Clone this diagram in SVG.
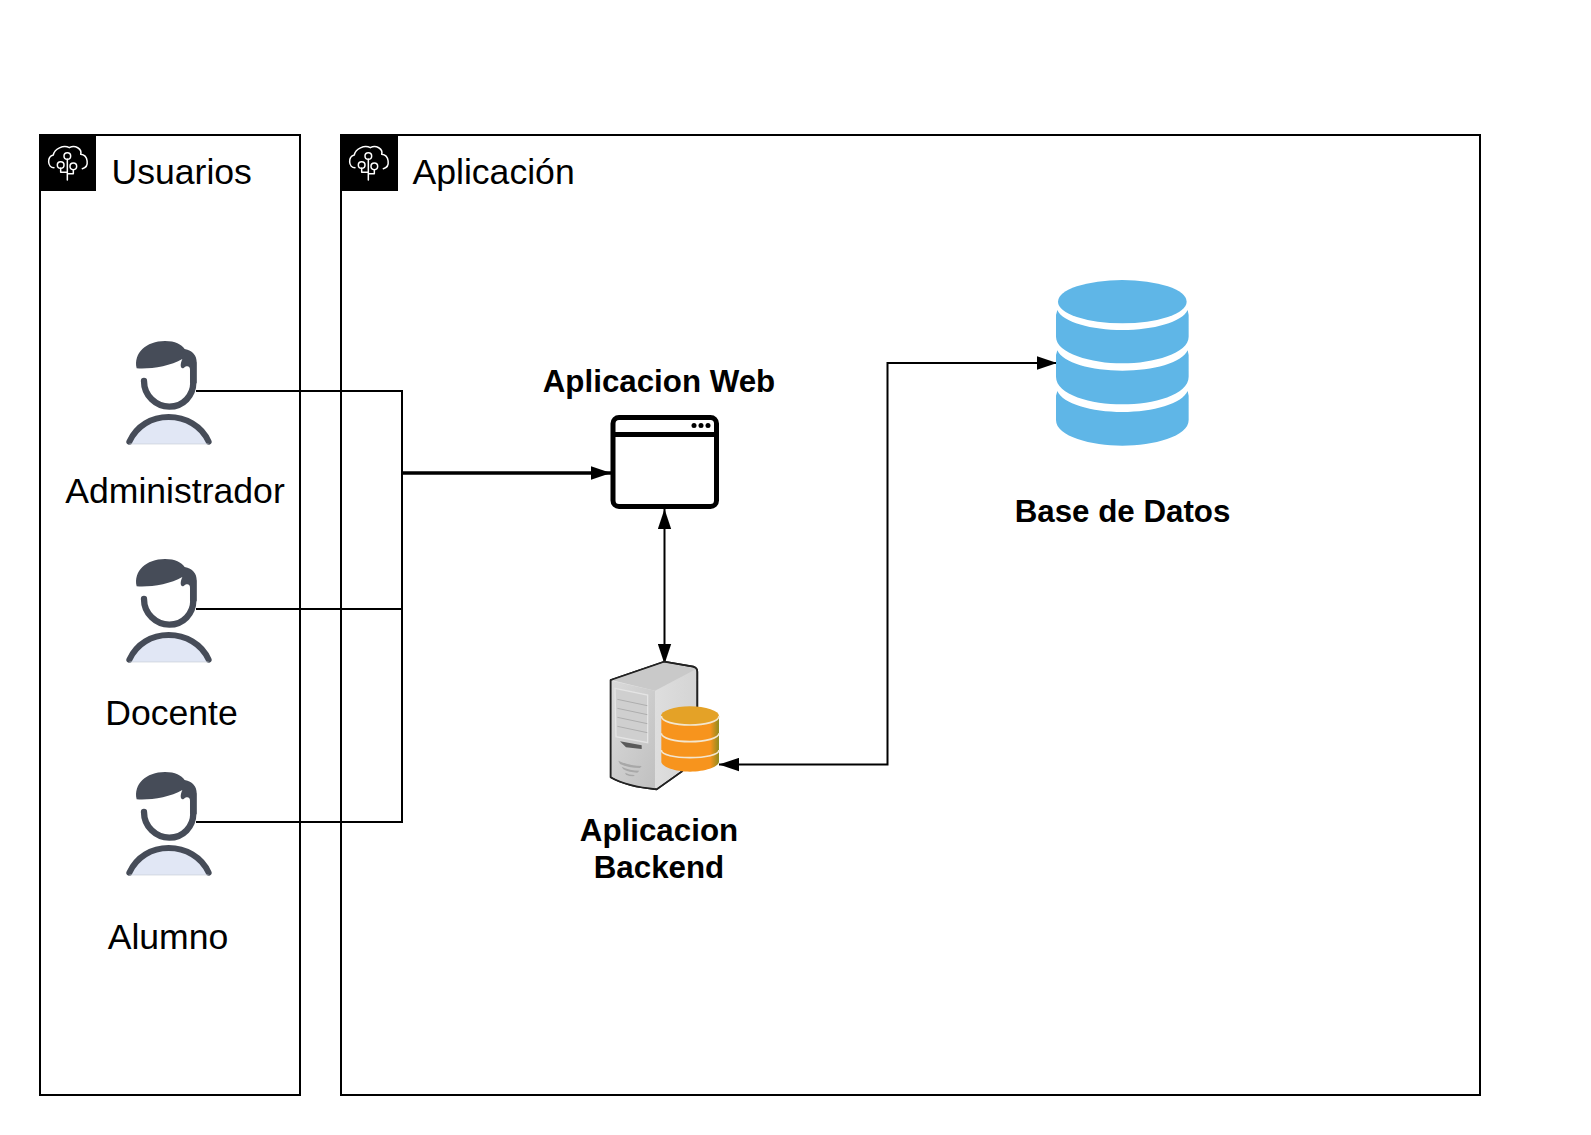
<svg xmlns="http://www.w3.org/2000/svg" width="1591" height="1135" viewBox="0 0 1591 1135">
<style>
text{font-family:"Liberation Sans",Arial,sans-serif;fill:#000}
.t{font-size:35.6px}
.b{font-size:31.3px;font-weight:bold;text-anchor:middle}
.m{text-anchor:middle}
.box{fill:#fff;stroke:#000;stroke-width:2}
.c{fill:none;stroke:#000;stroke-width:2}
.ic{fill:none;stroke:#fff;stroke-width:4.5;stroke-linecap:round;stroke-linejoin:round}
</style>
<defs>
<marker id="a" markerUnits="userSpaceOnUse" markerWidth="20" markerHeight="14" refX="18" refY="6" orient="auto-start-reverse" viewBox="0 0 18 12"><path d="M0,0L18,6L0,12Z" fill="#000"/></marker>
<linearGradient id="side" x1="0" x2="1"><stop offset="0" stop-color="#e8e8e8"/><stop offset="1" stop-color="#d4d4d4"/></linearGradient>
<linearGradient id="front" x1="0" x2="1" y1="0" y2="1"><stop offset="0" stop-color="#dadada"/><stop offset="1" stop-color="#c0c0c0"/></linearGradient>
<linearGradient id="cyl" x1="0" x2="1"><stop offset="0" stop-color="#f7941d"/><stop offset=".85" stop-color="#f7941d"/><stop offset="1" stop-color="#8f8a1e"/></linearGradient>
<g id="cloud" transform="scale(.3333)">
<path class="ic" d="M72,128C52,128 50,95 70,90C73,72 100,58 118,68C135,58 157,72 152,88C174,90 180,125 157,131"/>
<circle class="ic" cx="112" cy="93" r="10"/><circle class="ic" cx="92" cy="120" r="10"/><circle class="ic" cx="130" cy="124" r="10"/>
<path class="ic" d="M112,103V165M92,130V142H112M130,134V146H112"/>
</g>
<g id="person" transform="scale(.3333)">
<path d="M58,350C80,302 125,276 176,276C226,276 275,302 296,350L290,357H64Z" fill="#e1e7f5" stroke="none"/>
<path d="M58,350C80,302 125,276 176,276C226,276 275,302 296,350" fill="none" stroke="#464c58" stroke-width="18" stroke-linecap="round"/>
<path d="M58,357H296" stroke="#c9ced8" stroke-width="2" fill="none"/>
<path d="M102,168C102,212 138,245 178,245C220,245 250,212 250,172V115" fill="none" stroke="#464c58" stroke-width="19" stroke-linecap="round"/>
<path d="M80,130C70,85 108,48 165,48C196,48 214,58 224,72C248,76 260,92 260,112V175H240V135C241,125 232,120 222,128C213,134 208,122 217,102C180,124 120,133 80,130Z" fill="#464c58"/>
</g>
</defs>

<g id="grupo-usuarios">
<rect class="box" x="40" y="135" width="260" height="960"/>
<rect x="40" y="134" width="56" height="57" fill="#000"/>
<use href="#cloud" x="30" y="125"/>
<text class="t" x="111.500" y="184">Usuarios</text>
</g>
<g id="grupo-aplicacion">
<rect class="box" x="341" y="135" width="1139" height="960"/>
<rect x="341" y="134" width="57" height="57" fill="#000"/>
<use href="#cloud" x="331" y="125"/>
<text class="t" x="412.500" y="184">Aplicación</text>
</g>

<g id="connectors">
<path class="c" d="M196,391H402V822H196M196,609H402"/>
<path class="c" d="M402,473H611" style="stroke-width:3.500" marker-end="url(#a)"/>
<path class="c" d="M664.500,509V664" marker-start="url(#a)" marker-end="url(#a)"/>
<path class="c" d="M719,764.500H887.500V363H1057" marker-start="url(#a)" marker-end="url(#a)"/>
</g>

<g id="administrador"><use href="#person" x="110" y="325"/><text class="t m" x="175" y="503">Administrador</text></g>
<g id="docente"><use href="#person" x="110" y="543"/><text class="t m" x="171.500" y="725">Docente</text></g>
<g id="alumno"><use href="#person" x="110" y="756"/><text class="t m" x="168" y="949">Alumno</text></g>

<g id="aplicacion-web">
<rect x="613" y="417.500" width="103.500" height="89" rx="6" fill="#fff" stroke="#000" stroke-width="5"/>
<path d="M613,434.500H716.500" stroke="#000" stroke-width="5"/>
<circle cx="694" cy="425.500" r="2.500"/><circle cx="701" cy="425.500" r="2.500"/><circle cx="708" cy="425.500" r="2.500"/>
<text class="b" x="659" y="392">Aplicacion Web</text>
</g>

<g id="aplicacion-backend">
<g transform="translate(590,640) scale(.3333)">
<path d="M62,120L222,65L310,80Q322,84 322,95V340L275,395L200,448Q110,440 62,412Z" fill="url(#side)" stroke="#222" stroke-width="5" stroke-linejoin="round"/>
<path d="M64,120L222,67L320,86L195,152Z" fill="#c9c9c9"/>
<path d="M64,122L195,152V446Q110,438 64,410Z" fill="url(#front)"/>
<path d="M75,145L173,165V308L78,290Z" fill="#cfcfcf" stroke="#e4e4e4" stroke-width="4"/>
<path d="M82,178L172,197M82,205L172,224M82,232L172,251M82,259L172,278" stroke="#aeaeae" stroke-width="3" fill="none"/>
<path d="M90,304L155,316V327L108,322Z" fill="#5a5a5a"/>
<path d="M85,362Q120,378 155,378L150,384Q115,384 90,372ZM95,380Q120,392 148,392L142,398Q118,398 100,388ZM105,398Q120,406 135,405L130,409Q118,409 108,404Z" fill="#a8a8a8"/>
<path d="M62,120L222,65L310,80Q322,84 322,95V340L275,395L200,448Q110,440 62,412Z" fill="none" stroke="#222" stroke-width="5" stroke-linejoin="round"/>
<path d="M214,228V365C214,380 255,395 300,395C345,395 387,380 387,365V228Z" fill="url(#cyl)"/>
<ellipse cx="300" cy="228" rx="87" ry="29" fill="#e4a227"/>
<path d="M214,228C214,245 255,255 300,255C345,255 387,245 387,228M214,280C214,295 255,305 300,305C345,305 387,295 387,280M214,330C214,345 255,353 300,353C345,353 387,345 387,330" fill="none" stroke="#f3e6cf" stroke-width="5"/>
</g>
<text class="b" x="659" y="841">Aplicacion</text>
<text class="b" x="659" y="878">Backend</text>
</g>

<g id="base-de-datos">
<g transform="translate(1020,265) scale(.3333)" fill="#5fb6e7">
<ellipse cx="307" cy="110" rx="193" ry="65"/>
<path d="M112,135C128,172 215,195 307,195C400,195 486,172 503,135L506,150V215C506,265 400,295 307,295C215,295 108,265 108,215V150Z"/>
<path d="M112,256C128,294 215,317 307,317C400,317 486,294 503,256L506,270V335C506,390 400,418 307,418C215,418 108,390 108,335V270Z"/>
<path d="M112,378C128,416 215,441 307,441C400,441 486,416 503,378L506,392V465C506,515 400,542 307,542C215,542 108,515 108,465V392Z"/>
</g>
<text class="b" x="1122.500" y="521.500">Base de Datos</text>
</g>
</svg>
